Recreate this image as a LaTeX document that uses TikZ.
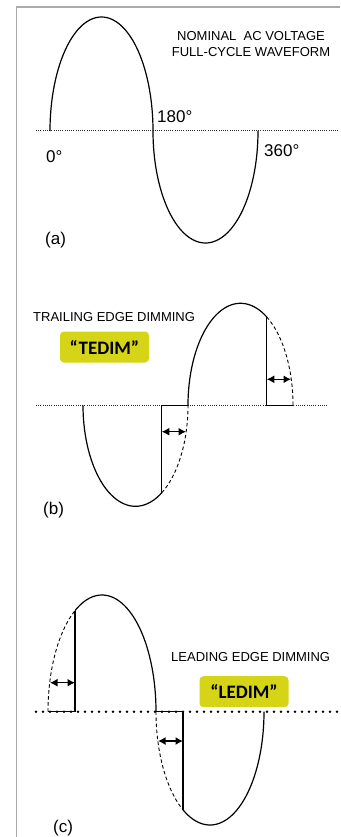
\documentclass[tikz,border=0pt]{standalone}
\usepackage{fontspec}
\setmainfont{Liberation Sans}
\newfontfamily\calib{Carlito}
\usetikzlibrary{arrows.meta}
\definecolor{hilite}{RGB}{214,212,22}
\definecolor{framegray}{RGB}{170,170,170}
\begin{document}
\begin{tikzpicture}[x=1pt,y=-1pt,
 wave/.style={line width=1.2pt, black},
 dashwave/.style={line width=0.9pt, black, dash pattern=on 3.5pt off 2.5pt},
 fineaxis/.style={line width=1pt, dash pattern=on 1pt off 1.2pt, black!85},
 coarseaxis/.style={line width=2.8pt, dash pattern=on 0pt off 7pt, line cap=round},
 gap/.style={line width=1.4pt, {Latex[length=7.5pt,width=8pt]}-{Latex[length=7.5pt,width=8pt]}},
 lbl/.style={inner sep=0pt, anchor=west, font=\fontsize{17}{20}\selectfont},
 caption/.style={inner sep=0pt, font=\fontsize{13}{15.5}\selectfont},
 tagbox/.style={fill=hilite, rounded corners=4pt, minimum width=89pt, minimum height=31pt, inner sep=0pt, font=\calib\bfseries\fontsize{19}{22}\selectfont}
]
\useasboundingbox (0,0) rectangle (340,837);
\fill[white] (0,0) rectangle (340,837);
\draw[framegray, line width=1.5pt] (16.5,837) -- (16.5,7) -- (340,7);

% ---------------- (a)
\draw[fineaxis] (36,131) -- (338,131);
\draw[wave] plot[domain=180:0, samples=90] ({101.5+51.5*cos(\x)},{131-114*sin(\x)});
\draw[wave] plot[domain=180:0, samples=90] ({205.5+52.5*cos(\x)},{131+112*sin(\x)});
\node[caption, align=center] (title) at (251,44) {NOMINAL\ \ AC VOLTAGE\\FULL-CYCLE WAVEFORM};
\node[lbl] (d180) at (157,117) {180°};
\node[lbl] (d0) at (46,157) {0°};
\node[lbl] (d360) at (264,151) {360°};
\node[lbl] (la) at (45,240) {(a)};

% ---------------- (b)
\draw[fineaxis] (36,405.3) -- (327,405.3);
\draw[wave] plot[domain=180:60, samples=70] ({135.5+52.5*cos(\x)},{405.3+101*sin(\x)});
\draw[dashwave] plot[domain=60:0, samples=40] ({135.5+52.5*cos(\x)},{405.3+101*sin(\x)});
\draw[wave] plot[domain=180:60, samples=70] ({240.5+52.5*cos(\x)},{405.3-102*sin(\x)});
\draw[dashwave] plot[domain=60:0, samples=40] ({240.5+52.5*cos(\x)},{405.3-102*sin(\x)});
\coordinate (bc1) at (161.75,492.8);
\coordinate (bz1) at (161.75,405.3);
\coordinate (be1) at (188,405.3);
\coordinate (bc2) at (266.75,317);
\coordinate (bz2) at (266.75,405.3);
\coordinate (be2) at (293,405.3);
\draw[wave] (bc1) -- (bz1) -- (be1);
\draw[wave] (bc2) -- (bz2) -- (be2);
\coordinate (ba1) at (161.75,431.7);
\coordinate (bb1) at (186,431.7);
\coordinate (ba2) at (266.75,379.3);
\coordinate (bb2) at (291,379.3);
\draw[gap] (ba1) -- (bb1);
\draw[gap] (ba2) -- (bb2);
\node[caption, anchor=west] (trail) at (33,316.7) {TRAILING EDGE DIMMING};
\node[tagbox] (tedim) at (104.5,347) {“TEDIM”};
\node[lbl] (lb) at (43,510) {(b)};

% ---------------- (c)
\draw[coarseaxis] (36,711.7) -- (338,711.7);
\draw[dashwave] plot[domain=180:120, samples=40] ({102+54*cos(\x)},{711.7-116.7*sin(\x)});
\draw[wave] plot[domain=120:0, samples=80] ({102+54*cos(\x)},{711.7-116.7*sin(\x)});
\draw[dashwave] plot[domain=180:120, samples=40] ({210+54*cos(\x)},{711.7+113.3*sin(\x)});
\draw[wave] plot[domain=120:0, samples=80] ({210+54*cos(\x)},{711.7+113.3*sin(\x)});
\coordinate (cs1) at (48,711.7);
\coordinate (cz1) at (75,711.7);
\coordinate (cc1) at (75,610.6);
\coordinate (cs2) at (156,711.7);
\coordinate (cz2) at (183,711.7);
\coordinate (cc2) at (183,809.8);
\draw[wave] (cs1) -- (cz1) -- (cc1);
\draw[wave] (cs2) -- (cz2) -- (cc2);
\coordinate (ca1) at (50,682.7);
\coordinate (cb1) at (75,682.7);
\coordinate (ca2) at (158,741);
\coordinate (cb2) at (183,741);
\draw[gap] (ca1) -- (cb1);
\draw[gap] (ca2) -- (cb2);
\node[caption, anchor=west] (lead) at (171,656.7) {LEADING EDGE DIMMING};
\node[tagbox] (ledim) at (244,691.7) {“LEDIM”};
\node[lbl] (lc) at (53,828) {(c)};
\end{tikzpicture}
\end{document}
